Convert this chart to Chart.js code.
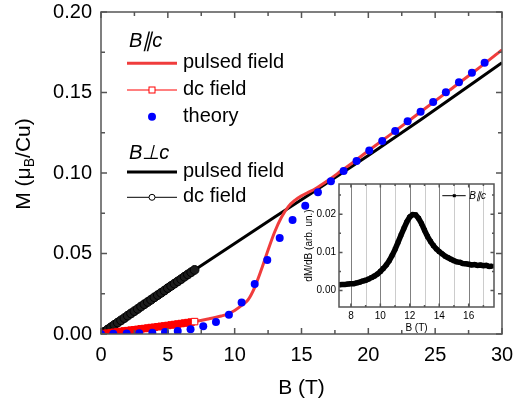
<!DOCTYPE html>
<html>
<head>
<meta charset="utf-8">
<script src="https://cdn.jsdelivr.net/npm/chart.js@4.4.1/dist/chart.umd.min.js"></script>
<style>
  html, body { margin: 0; padding: 0; background: #fff; }
  #wrap { position: relative; width: 514px; height: 402px; }
  #main { position: absolute; left: 0; top: 0; }
  #inset { position: absolute; left: 295px; top: 176px; }
</style>
</head>
<body>
<div id="wrap">
  <canvas id="main" width="514" height="402"></canvas>
  <canvas id="inset" width="210" height="160"></canvas>
</div>
<script>
// B||c pulsed field
var parPulsedB = [0, 1, 2, 3, 4, 5, 6, 7, 8, 9, 9.5, 10, 10.5, 11, 11.5, 12, 12.5, 13, 13.5, 14, 14.5, 15, 15.5, 16, 17, 18, 19, 20, 22, 24, 26, 28, 30];
var parPulsedM = [0, 0.0011, 0.0021, 0.0032, 0.0042, 0.0053, 0.0065, 0.0077, 0.0093, 0.0112, 0.0125, 0.0146, 0.0176, 0.0212, 0.0290, 0.0400, 0.0522, 0.0635, 0.0725, 0.0790, 0.0830, 0.0858, 0.0880, 0.0901, 0.0955, 0.1015, 0.1075, 0.1138, 0.1260, 0.1385, 0.1510, 0.1635, 0.1765];

// B||c dc field
var parDcB = [0, 0.25, 0.5, 0.75, 1, 1.25, 1.5, 1.75, 2, 2.25, 2.5, 2.75, 3, 3.25, 3.5, 3.75, 4, 4.25, 4.5, 4.75, 5, 5.25, 5.5, 5.75, 6, 6.25, 6.5, 6.75, 7];
var parDcM = [0, 0.0003, 0.0005, 0.0008, 0.0011, 0.0013, 0.0016, 0.0019, 0.0021, 0.0024, 0.0026, 0.0029, 0.0032, 0.0034, 0.0037, 0.0040, 0.0042, 0.0045, 0.0048, 0.0050, 0.0053, 0.0056, 0.0059, 0.0062, 0.0065, 0.0068, 0.0071, 0.0074, 0.0077];

// theory
var theoryB = [0, 0.92, 1.92, 2.86, 3.84, 4.79, 5.74, 6.7, 7.65, 8.6, 9.57, 10.52, 11.5, 12.44, 13.37, 14.33, 15.28, 16.23, 17.2, 18.15, 19.12, 20.07, 21.04, 22.01, 22.94, 23.91, 24.85, 25.8, 26.78, 27.75, 28.7];
var theoryM = [0, 0.0001, 0.0003, 0.0005, 0.0008, 0.0012, 0.0018, 0.0030, 0.0048, 0.0075, 0.0120, 0.0195, 0.0310, 0.0460, 0.0596, 0.0708, 0.0797, 0.0880, 0.0948, 0.1012, 0.1075, 0.1139, 0.1199, 0.1261, 0.1321, 0.1381, 0.1441, 0.1501, 0.1563, 0.1623, 0.1685];

// B perp c pulsed field
var perpPulsedB = [0, 7, 10, 13, 16, 18, 20, 22, 24, 26, 28, 30];
var perpPulsedM = [0, 0.0398, 0.0562, 0.0727, 0.0888, 0.0998, 0.1108, 0.1222, 0.1335, 0.1452, 0.1568, 0.1685];

// B perp c dc field
var perpDcB = [0, 0.25, 0.5, 0.75, 1, 1.25, 1.5, 1.75, 2, 2.25, 2.5, 2.75, 3, 3.25, 3.5, 3.75, 4, 4.25, 4.5, 4.75, 5, 5.25, 5.5, 5.75, 6, 6.25, 6.5, 6.75, 7];
var perpDcM = [0, 0.0014, 0.0028, 0.0042, 0.0057, 0.0071, 0.0085, 0.0099, 0.0114, 0.0128, 0.0142, 0.0156, 0.0171, 0.0185, 0.0199, 0.0213, 0.0228, 0.0242, 0.0256, 0.0270, 0.0285, 0.0299, 0.0313, 0.0327, 0.0341, 0.0356, 0.0370, 0.0384, 0.0398];

// inset dM/dB, B||c
var insetB = [7.2, 7.4, 7.6, 7.8, 8.0, 8.2, 8.4, 8.6, 8.8, 9.0, 9.2, 9.4, 9.6, 9.8, 10.0, 10.2, 10.4, 10.6, 10.8, 11.0, 11.2, 11.4, 11.6, 11.8, 12.0, 12.2, 12.4, 12.6, 12.8, 13.0, 13.2, 13.4, 13.6, 13.8, 14.0, 14.2, 14.4, 14.6, 14.8, 15.0, 15.2, 15.4, 15.6, 15.8, 16.0, 16.2, 16.4, 16.6, 16.8, 17.0, 17.2, 17.4, 17.6];
var insetD = [0.0015, 0.0016, 0.0016, 0.0017, 0.0018, 0.0018, 0.0020, 0.0022, 0.0025, 0.0027, 0.0030, 0.0034, 0.0038, 0.0043, 0.0050, 0.0058, 0.0067, 0.0078, 0.0092, 0.0108, 0.0126, 0.0145, 0.0163, 0.0180, 0.0193, 0.0199, 0.0198, 0.0189, 0.0175, 0.0158, 0.0142, 0.0129, 0.0118, 0.0109, 0.0102, 0.0096, 0.0090, 0.0086, 0.0082, 0.0078, 0.0075, 0.0074, 0.0071, 0.0070, 0.0069, 0.0067, 0.0068, 0.0066, 0.0067, 0.0065, 0.0066, 0.0063, 0.0064];

var FONT = "'Liberation Sans', Arial, sans-serif";
var RED = 'rgb(240,60,60)';

function pts(xs, ys) {
  return xs.map(function (x, i) { return { x: x, y: ys[i] }; });
}

// no extra room for overflowing tick labels, the layout padding handles it
function fixX(h) {
  return function (s) { s.height = h; s.paddingLeft = 0; s.paddingRight = 0; };
}
function fixY(w) {
  return function (s) { s.width = w; s.paddingTop = 0; s.paddingBottom = 0; };
}

// frame with inward ticks on all four sides
function drawFrame(chart, xMaj, xMin, yMaj, yMin, L1, L2) {
  var ctx = chart.ctx, a = chart.chartArea, sx = chart.scales.x, sy = chart.scales.y;
  ctx.save();
  ctx.strokeStyle = '#555';
  ctx.lineWidth = 1.5;
  ctx.strokeRect(a.left, a.top, a.right - a.left, a.bottom - a.top);
  ctx.beginPath();
  function vt(v, len) {
    var p = sx.getPixelForValue(v);
    ctx.moveTo(p, a.bottom); ctx.lineTo(p, a.bottom - len);
    ctx.moveTo(p, a.top); ctx.lineTo(p, a.top + len);
  }
  function ht(v, len) {
    var p = sy.getPixelForValue(v);
    ctx.moveTo(a.left, p); ctx.lineTo(a.left + len, p);
    ctx.moveTo(a.right, p); ctx.lineTo(a.right - len, p);
  }
  xMaj.forEach(function (v) { vt(v, L1); });
  xMin.forEach(function (v) { vt(v, L2); });
  yMaj.forEach(function (v) { ht(v, L1); });
  yMin.forEach(function (v) { ht(v, L2); });
  ctx.stroke();
  ctx.restore();
}

function mids(vals, min, max) {
  var out = [];
  for (var i = 0; i < vals.length - 1; i++) out.push((vals[i] + vals[i + 1]) / 2);
  if (vals.length > 1) {
    var h = (vals[1] - vals[0]) / 2;
    if (vals[0] - h >= min) out.push(vals[0] - h);
    if (vals[vals.length - 1] + h <= max) out.push(vals[vals.length - 1] + h);
  }
  return out;
}

var mainDecor = {
  id: 'mainDecor',
  afterDraw: function (chart) {
    var ctx = chart.ctx, sx = chart.scales.x, sy = chart.scales.y;
    var xv = sx.ticks.map(function (t) { return t.value; });
    var yv = sy.ticks.map(function (t) { return t.value; });
    drawFrame(chart, xv, mids(xv, sx.min, sx.max), yv, mids(yv, sy.min, sy.max), 6, 4);

    ctx.save();
    ctx.fillStyle = '#000';
    // x title
    ctx.font = '21px ' + FONT;
    ctx.textAlign = 'center';
    ctx.textBaseline = 'alphabetic';
    ctx.fillText('B (T)', (chart.chartArea.left + chart.chartArea.right) / 2, 394);

    // y title with subscript
    ctx.translate(30, 164);
    ctx.rotate(-Math.PI / 2);
    ctx.textAlign = 'left';
    var p1 = 'M (\u03bc', p2 = 'B', p3 = '/Cu)';
    ctx.font = '21px ' + FONT;
    var w1 = ctx.measureText(p1).width, w3 = ctx.measureText(p3).width;
    ctx.font = '14px ' + FONT;
    var w2 = ctx.measureText(p2).width;
    var x0 = -(w1 + w2 + w3) / 2;
    ctx.font = '21px ' + FONT;
    ctx.fillText(p1, x0, 0);
    ctx.font = '14px ' + FONT;
    ctx.fillText(p2, x0 + w1, 4);
    ctx.font = '21px ' + FONT;
    ctx.fillText(p3, x0 + w1 + w2, 0);
    ctx.restore();

    // legend
    ctx.save();
    ctx.fillStyle = '#000';
    ctx.textBaseline = 'alphabetic';
    ctx.textAlign = 'left';
    var lx0 = 127, lx1 = 177, tx = 183, mx = 152;
    ctx.font = 'italic 20px ' + FONT;
    ctx.fillText('B\u2225c', 129, 46.7);
    ctx.fillText('B\u22a5c', 129, 159.3);
    ctx.font = '20px ' + FONT;
    function seg(y, col, w) {
      ctx.strokeStyle = col; ctx.lineWidth = w;
      ctx.beginPath(); ctx.moveTo(lx0, y); ctx.lineTo(lx1, y); ctx.stroke();
    }
    seg(63.3, RED, 3);
    ctx.fillText('pulsed field', tx, 68.3);
    seg(90, 'rgb(255,0,0)', 1);
    ctx.fillStyle = '#fff'; ctx.strokeStyle = 'rgb(255,0,0)'; ctx.lineWidth = 1;
    ctx.fillRect(mx - 3, 87, 6, 6); ctx.strokeRect(mx - 3, 87, 6, 6);
    ctx.fillStyle = '#000';
    ctx.fillText('dc field', tx, 95);
    ctx.fillStyle = 'rgb(0,0,255)';
    ctx.beginPath(); ctx.arc(mx, 116.7, 4, 0, Math.PI * 2); ctx.fill();
    ctx.fillStyle = '#000';
    ctx.fillText('theory', tx, 121.7);
    seg(172, '#000', 3);
    ctx.fillText('pulsed field', tx, 177);
    seg(197.3, '#000', 1);
    ctx.fillStyle = '#fff'; ctx.strokeStyle = '#000'; ctx.lineWidth = 1;
    ctx.beginPath(); ctx.arc(mx, 197.3, 3, 0, Math.PI * 2); ctx.fill(); ctx.stroke();
    ctx.fillStyle = '#000';
    ctx.fillText('dc field', tx, 202.3);
    ctx.restore();
  }
};

var mainChart = new Chart(document.getElementById('main').getContext('2d'), {
  type: 'line',
  data: {
    datasets: [{
      label: 'theory',
      data: pts(theoryB, theoryM),
      showLine: false,
      pointRadius: 4,
      pointBorderWidth: 0,
      pointBackgroundColor: 'rgb(0,0,255)',
      order: 0
    }, {
      label: 'B||c dc field',
      data: pts(parDcB, parDcM),
      borderColor: 'rgb(255,0,0)',
      borderWidth: 1,
      pointStyle: 'rect',
      pointRadius: 4.6,
      pointBorderWidth: 1,
      pointBorderColor: 'rgb(255,0,0)',
      pointBackgroundColor: parDcB.map(function (b, i) { return i === parDcB.length - 1 ? '#fff' : 'rgb(255,0,0)'; }),
      order: 1
    }, {
      label: 'B||c pulsed field',
      data: pts(parPulsedB, parPulsedM),
      borderColor: RED,
      borderWidth: 3,
      pointRadius: 0,
      cubicInterpolationMode: 'monotone',
      order: 2
    }, {
      label: 'B perp c dc field',
      data: pts(perpDcB, perpDcM),
      borderColor: '#000',
      borderWidth: 6,
      pointStyle: 'circle',
      pointRadius: 4.4,
      pointBorderWidth: 1,
      pointBorderColor: '#000',
      pointBackgroundColor: '#1c1c1c',
      order: 3
    }, {
      label: 'B perp c pulsed field',
      data: pts(perpPulsedB, perpPulsedM),
      borderColor: '#000',
      borderWidth: 3,
      pointRadius: 0,
      order: 4
    }]
  },
  options: {
    responsive: false,
    animation: false,
    layout: { padding: { left: 0, top: 12, right: 12, bottom: 0 } },
    plugins: { legend: { display: false }, tooltip: { enabled: false } },
    scales: {
      x: {
        type: 'linear',
        min: 0, max: 30,
        afterFit: fixX(68),
        grid: { display: false, drawTicks: false },
        border: { display: false },
        ticks: { stepSize: 5, padding: 9, color: '#000', font: { family: FONT, size: 20 } }
      },
      y: {
        type: 'linear',
        min: 0, max: 0.2,
        afterFit: fixY(101),
        grid: { display: false, drawTicks: false },
        border: { display: false },
        ticks: {
          stepSize: 0.05, padding: 9, color: '#000', font: { family: FONT, size: 20 },
          callback: function (v) { return v.toFixed(2); }
        }
      }
    }
  },
  plugins: [mainDecor]
});

var insetDecor = {
  id: 'insetDecor',
  beforeDatasetsDraw: function (chart) {
    var ctx = chart.ctx, a = chart.chartArea, sx = chart.scales.x;
    ctx.save();
    ctx.lineWidth = 1;
    sx.ticks.forEach(function (t) {
      var p = Math.round(sx.getPixelForValue(t.value)) + 0.5;
      ctx.strokeStyle = t.value % 2 === 0 ? '#808080' : '#cccccc';
      ctx.beginPath(); ctx.moveTo(p, a.top); ctx.lineTo(p, a.bottom); ctx.stroke();
    });
    ctx.restore();
  },
  afterDraw: function (chart) {
    var ctx = chart.ctx, a = chart.chartArea, sx = chart.scales.x, sy = chart.scales.y;
    var xv = sx.ticks.map(function (t) { return t.value; });
    var yv = sy.ticks.map(function (t) { return t.value; });
    drawFrame(chart, xv.filter(function (v) { return v % 2 === 0; }), xv.filter(function (v) { return v % 2 !== 0; }),
      yv, mids(yv, sy.min, sy.max), 3.5, 2);

    ctx.save();
    ctx.fillStyle = '#000';
    ctx.font = '10px ' + FONT;
    ctx.textAlign = 'center';
    ctx.textBaseline = 'alphabetic';
    ctx.fillText('B (T)', (a.left + a.right) / 2, 154.5);
    ctx.save();
    ctx.translate(17, (a.top + a.bottom) / 2);
    ctx.rotate(-Math.PI / 2);
    ctx.fillText('dM/dB (arb. un.)', 0, 0);
    ctx.restore();

    // inset legend
    ctx.strokeStyle = '#000';
    ctx.lineWidth = 1;
    ctx.beginPath(); ctx.moveTo(147.3, 19.7); ctx.lineTo(170.7, 19.7); ctx.stroke();
    ctx.fillRect(157.8, 18.2, 3, 3);
    ctx.textAlign = 'left';
    ctx.font = 'italic 10px ' + FONT;
    ctx.fillText('B\u2225c', 174.3, 23.3);
    ctx.restore();
  }
};

var insetChart = new Chart(document.getElementById('inset').getContext('2d'), {
  type: 'line',
  data: {
    datasets: [{
      label: 'B||c',
      data: pts(insetB, insetD),
      borderColor: '#000',
      borderWidth: 5.5,
      pointStyle: 'rect',
      pointRadius: 2.6,
      pointBorderWidth: 1,
      pointBorderColor: '#000',
      pointBackgroundColor: '#000'
    }]
  },
  options: {
    responsive: false,
    animation: false,
    layout: { padding: { left: 0, top: 8, right: 11, bottom: 0 } },
    plugins: { legend: { display: false }, tooltip: { enabled: false } },
    scales: {
      x: {
        type: 'linear',
        min: 7.19, max: 17.72,
        afterFit: fixX(29),
        grid: { display: false, drawTicks: false },
        border: { display: false },
        ticks: {
          stepSize: 1, includeBounds: false, autoSkip: false, maxRotation: 0, padding: 3,
          color: '#000', font: { family: FONT, size: 10 },
          callback: function (v) { return v % 2 === 0 ? String(v) : ''; }
        }
      },
      y: {
        type: 'linear',
        min: -0.0043, max: 0.0279,
        afterFit: fixY(44),
        grid: { display: false, drawTicks: false },
        border: { display: false },
        ticks: {
          stepSize: 0.01, includeBounds: false, padding: 3,
          color: '#000', font: { family: FONT, size: 10 },
          callback: function (v) { return v.toFixed(2); }
        }
      }
    }
  },
  plugins: [insetDecor]
});
</script>
</body>
</html>
